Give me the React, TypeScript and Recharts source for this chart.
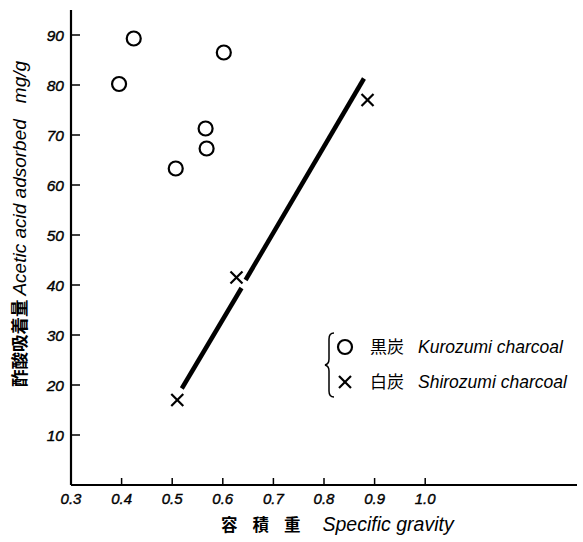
import { ScatterChart, Scatter, XAxis, YAxis } from "recharts";

// Kurozumi (black charcoal) points
const kuroX = [0.395, 0.424, 0.602, 0.566, 0.568, 0.507];
const kuroY = [80.2, 89.3, 86.5, 71.3, 67.3, 63.3];

// Shirozumi (white charcoal) points
const shiroX = [0.51, 0.627, 0.886];
const shiroY = [17, 41.5, 77];

// fitted line for shirozumi, drawn in two pieces (broken at the middle cross)
const lineAX = [0.519, 0.637];
const lineAY = [19.3, 39.4];
const lineBX = [0.645, 0.879];
const lineBY = [41.0, 81.3];

const xTicks = [0.3, 0.4, 0.5, 0.6, 0.7, 0.8, 0.9, 1.0];
const xTickLabels = ["0.3", "0.4", "0.5", "0.6", "0.7", "0.8", "0.9", "1.0"];
const yTicks = [10, 20, 30, 40, 50, 60, 70, 80, 90];

const seriesNames = [
  { jp: "黒炭", en: "Kurozumi charcoal" },
  { jp: "白炭", en: "Shirozumi charcoal" },
];

const toPoints = (xs: number[], ys: number[]) => xs.map((x, i) => ({ x, y: ys[i] }));

const kuroData = toPoints(kuroX, kuroY);
const shiroData = toPoints(shiroX, shiroY);
const lineA = toPoints(lineAX, lineAY);
const lineB = toPoints(lineBX, lineBY);

const ITALIC = "'Liberation Sans', 'DejaVu Sans', sans-serif";
const CJK = "'Noto Sans CJK JP', sans-serif";

const CircleMark = (props: any) => (
  <circle cx={props.cx} cy={props.cy} r={7} fill="none" stroke="#000" strokeWidth={2.2} />
);

const CrossMark = (props: any) => {
  const { cx, cy } = props;
  const s = 6;
  return (
    <g stroke="#000" strokeWidth={2.2}>
      <line x1={cx - s} y1={cy - s} x2={cx + s} y2={cy + s} />
      <line x1={cx - s} y1={cy + s} x2={cx + s} y2={cy - s} />
    </g>
  );
};

const NoMark = () => <g />;

const XTick = (props: any) => {
  const { x, y, payload } = props;
  const idx = xTicks.indexOf(payload.value);
  return (
    <g>
      {idx > 0 && <line x1={x} y1={y - 8} x2={x} y2={y - 15} stroke="#000" strokeWidth={1.5} />}
      <text
        x={x}
        y={y + 11}
        textAnchor="middle"
        fontFamily={ITALIC}
        fontStyle="italic"
        fontSize={15}
        fill="#000"
        stroke="#000"
        strokeWidth={0.4}
      >
        {xTickLabels[idx]}
      </text>
    </g>
  );
};

const YTick = (props: any) => {
  const { x, y, payload } = props;
  return (
    <g>
      <line x1={x + 6} y1={y} x2={x + 15} y2={y} stroke="#000" strokeWidth={1.5} />
      <text
        x={x - 1}
        y={y + 5.5}
        textAnchor="end"
        fontFamily={ITALIC}
        fontStyle="italic"
        fontSize={15.5}
        fill="#000"
        stroke="#000"
        strokeWidth={0.4}
      >
        {payload.value}
      </text>
    </g>
  );
};

const YLabel = () => (
  <text transform="translate(26, 224) rotate(-90)" textAnchor="middle" fill="#000">
    <tspan fontFamily={CJK} fontWeight="bold" fontSize={17.5}>酢酸吸着量 </tspan>
    <tspan fontFamily={ITALIC} fontStyle="italic" fontSize={19}>Acetic acid adsorbed</tspan>
    <tspan fontFamily={ITALIC} fontStyle="italic" fontSize={19} dx={16}>mg/g</tspan>
  </text>
);

const XLabel = () => (
  <text x={221} y={531} textAnchor="start" fill="#000">
    <tspan fontFamily={CJK} fontWeight="bold" fontSize={16.5} letterSpacing={15}>容積重</tspan>
    <tspan fontFamily={ITALIC} fontStyle="italic" fontSize={19.5} dx={7}>Specific gravity</tspan>
  </text>
);

export default function App() {
  return (
    <div style={{ position: "relative", width: 583, height: 542, background: "#fff" }}>
      <style>{`body{margin:0}`}</style>
      <ScatterChart width={583} height={542} margin={{ top: 10, right: 6, bottom: 0, left: 0 }}>
        <XAxis
          type="number"
          dataKey="x"
          domain={[0.3, 1.3]}
          ticks={xTicks}
          interval={0}
          height={57}
          tickSize={0}
          tickMargin={8}
          tickLine={false}
          axisLine={{ stroke: "#000", strokeWidth: 2.2 }}
          tick={<XTick />}
          label={{ content: () => <XLabel /> }}
        />
        <YAxis
          type="number"
          dataKey="y"
          domain={[0, 95]}
          ticks={yTicks}
          interval={0}
          width={71}
          tickSize={0}
          tickMargin={6}
          tickLine={false}
          axisLine={{ stroke: "#000", strokeWidth: 2.2 }}
          tick={<YTick />}
          label={{ content: () => <YLabel /> }}
        />
        <Scatter
          name="line-a"
          data={lineA}
          line={{ stroke: "#000", strokeWidth: 4.5 }}
          shape={NoMark}
          isAnimationActive={false}
        />
        <Scatter
          name="line-b"
          data={lineB}
          line={{ stroke: "#000", strokeWidth: 4.5 }}
          shape={NoMark}
          isAnimationActive={false}
        />
        <Scatter name={seriesNames[0].en} data={kuroData} shape={CircleMark} isAnimationActive={false} />
        <Scatter name={seriesNames[1].en} data={shiroData} shape={CrossMark} isAnimationActive={false} />
      </ScatterChart>

      {/* legend */}
      <svg
        width={260}
        height={70}
        style={{ position: "absolute", left: 320, top: 330 }}
      >
        <path
          d="M 14 3 Q 9 3 9 9 L 9 29 Q 9 34 5 35 Q 9 36 9 41 L 9 61 Q 9 67 14 67"
          fill="none"
          stroke="#000"
          strokeWidth={1.5}
        />
        <CircleMark cx={25} cy={17} />
        <CrossMark cx={25} cy={52} />
        {seriesNames.map((s, i) => (
          <text key={s.en} x={50} y={23 + i * 35} fill="#000">
            <tspan fontFamily={CJK} fontSize={17}>{s.jp}</tspan>
            <tspan fontFamily={ITALIC} fontStyle="italic" fontSize={17.5} dx={14}>{s.en}</tspan>
          </text>
        ))}
      </svg>
    </div>
  );
}
